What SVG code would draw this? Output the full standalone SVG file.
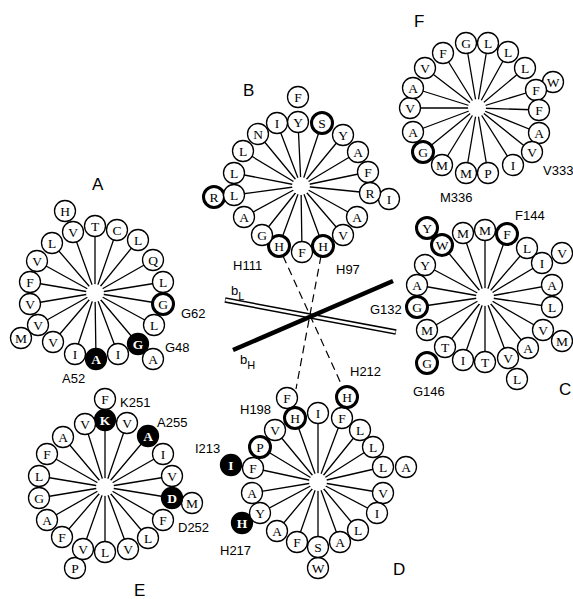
<svg xmlns="http://www.w3.org/2000/svg" width="573" height="599" viewBox="0 0 573 599">
<style>
.c{fill:#fff;stroke:#000;stroke-width:1.3}
.cb{fill:#fff;stroke:#000;stroke-width:3}
.ck{fill:#000;stroke:#000;stroke-width:1.3}
.t{font-family:"Liberation Serif",serif;font-size:13.5px;text-anchor:middle;fill:#000}
.tw{font-family:"Liberation Serif",serif;font-size:13.5px;text-anchor:middle;fill:#fff;font-weight:bold}
.l{font-family:"Liberation Sans",Arial,sans-serif;font-size:13px;fill:#000}
.w{font-family:"Liberation Sans",Arial,sans-serif;font-size:17px;fill:#000}
.sp{stroke:#000;stroke-width:1.3;fill:none}
.hub{fill:#fff;stroke:none}
</style>
<rect width="573" height="599" fill="#fff"/>
<g id="connectors">
<line x1="283" y1="256" x2="343" y2="388" stroke="#000" stroke-width="1.2" stroke-dasharray="8,5"/>
<line x1="321" y1="256" x2="296" y2="389" stroke="#000" stroke-width="1.2" stroke-dasharray="8,5"/>
<line x1="225" y1="300" x2="396" y2="332" stroke="#000" stroke-width="5.5"/>
<line x1="225.5" y1="300.1" x2="395.5" y2="331.9" stroke="#fff" stroke-width="2.5"/>
<line x1="233" y1="350" x2="393" y2="281" stroke="#000" stroke-width="4.5"/>
</g>
<g id="axis-labels">
<text class="l" x="231" y="295">b<tspan font-size="11" dy="5">L</tspan></text>
<text class="l" x="240" y="364">b<tspan font-size="11" dy="5">H</tspan></text>
</g>
<g id="wheelA">
<path class="sp" d="M95 293L73 232M95 293L95 226M95 293L117 230M95 293L138 240M95 293L153 260M95 293L163 282M95 293L163 304M95 293L154 325M95 293L138 344M95 293L118 354M95 293L96 359M95 293L75 354M95 293L53 342M95 293L38 325M95 293L30 304M95 293L30 282M95 293L37 261M95 293L52 243"/>
<circle class="hub" cx="95" cy="293" r="9"/>
<g id="A-H"><circle class="c" cx="65" cy="211" r="10.5"/><text class="t" x="65" y="215.5">H</text></g>
<g id="A-V1"><circle class="c" cx="73" cy="232" r="10.5"/><text class="t" x="73" y="236.5">V</text></g>
<g id="A-T"><circle class="c" cx="95" cy="226" r="10.5"/><text class="t" x="95" y="230.5">T</text></g>
<g id="A-C"><circle class="c" cx="117" cy="230" r="10.5"/><text class="t" x="117" y="234.5">C</text></g>
<g id="A-L1"><circle class="c" cx="138" cy="240" r="10.5"/><text class="t" x="138" y="244.5">L</text></g>
<g id="A-Q"><circle class="c" cx="153" cy="260" r="10.5"/><text class="t" x="153" y="264.5">Q</text></g>
<g id="A-L2"><circle class="c" cx="163" cy="282" r="10.5"/><text class="t" x="163" y="286.5">L</text></g>
<g id="A-G62"><circle class="cb" cx="163" cy="304" r="10.5"/><text class="t" x="163" y="308.5">G</text></g>
<g id="A-L3"><circle class="c" cx="154" cy="325" r="10.5"/><text class="t" x="154" y="329.5">L</text></g>
<g id="A-G48"><circle class="ck" cx="138" cy="344" r="10.5"/><text class="tw" x="138" y="348.5">G</text></g>
<g id="A-A1"><circle class="c" cx="153" cy="359" r="10.5"/><text class="t" x="153" y="363.5">A</text></g>
<g id="A-I1"><circle class="c" cx="118" cy="354" r="10.5"/><text class="t" x="118" y="358.5">I</text></g>
<g id="A-A52"><circle class="ck" cx="96" cy="359" r="10.5"/><text class="tw" x="96" y="363.5">A</text></g>
<g id="A-I2"><circle class="c" cx="75" cy="354" r="10.5"/><text class="t" x="75" y="358.5">I</text></g>
<g id="A-V2"><circle class="c" cx="53" cy="342" r="10.5"/><text class="t" x="53" y="346.5">V</text></g>
<g id="A-M"><circle class="c" cx="21" cy="338" r="10.5"/><text class="t" x="21" y="342.5">M</text></g>
<g id="A-V3"><circle class="c" cx="38" cy="325" r="10.5"/><text class="t" x="38" y="329.5">V</text></g>
<g id="A-V4"><circle class="c" cx="30" cy="304" r="10.5"/><text class="t" x="30" y="308.5">V</text></g>
<g id="A-F"><circle class="c" cx="30" cy="282" r="10.5"/><text class="t" x="30" y="286.5">F</text></g>
<g id="A-V5"><circle class="c" cx="37" cy="261" r="10.5"/><text class="t" x="37" y="265.5">V</text></g>
<g id="A-L4"><circle class="c" cx="52" cy="243" r="10.5"/><text class="t" x="52" y="247.5">L</text></g>
<text class="w" x="92" y="190">A</text>
<text class="l" x="181" y="318">G62</text>
<text class="l" x="165" y="352">G48</text>
<text class="l" x="62" y="383">A52</text>
</g>
<g id="wheelB">
<path class="sp" d="M301 186L298 122M301 186L322 123M301 186L343 135M301 186L358 152M301 186L368 172M301 186L370 193M301 186L357 217M301 186L343 235M301 186L323 246M301 186L302 252M301 186L279 246M301 186L262 235M301 186L244 217M301 186L234 195M301 186L234 173M301 186L243 151M301 186L258 134M301 186L277 123"/>
<circle class="hub" cx="301" cy="186" r="9"/>
<g id="B-F1"><circle class="c" cx="298" cy="97" r="10.5"/><text class="t" x="298" y="101.5">F</text></g>
<g id="B-Y1"><circle class="c" cx="298" cy="122" r="10.5"/><text class="t" x="298" y="126.5">Y</text></g>
<g id="B-S"><circle class="cb" cx="322" cy="123" r="10.5"/><text class="t" x="322" y="127.5">S</text></g>
<g id="B-Y2"><circle class="c" cx="343" cy="135" r="10.5"/><text class="t" x="343" y="139.5">Y</text></g>
<g id="B-A1"><circle class="c" cx="358" cy="152" r="10.5"/><text class="t" x="358" y="156.5">A</text></g>
<g id="B-F2"><circle class="c" cx="368" cy="172" r="10.5"/><text class="t" x="368" y="176.5">F</text></g>
<g id="B-I2"><circle class="c" cx="389" cy="199" r="10.5"/><text class="t" x="389" y="203.5">I</text></g>
<g id="B-R1"><circle class="c" cx="370" cy="193" r="10.5"/><text class="t" x="370" y="197.5">R</text></g>
<g id="B-A2"><circle class="c" cx="357" cy="217" r="10.5"/><text class="t" x="357" y="221.5">A</text></g>
<g id="B-V"><circle class="c" cx="343" cy="235" r="10.5"/><text class="t" x="343" y="239.5">V</text></g>
<g id="B-H97"><circle class="cb" cx="323" cy="246" r="10.5"/><text class="t" x="323" y="250.5">H</text></g>
<g id="B-F3"><circle class="c" cx="302" cy="252" r="10.5"/><text class="t" x="302" y="256.5">F</text></g>
<g id="B-H111"><circle class="cb" cx="279" cy="246" r="10.5"/><text class="t" x="279" y="250.5">H</text></g>
<g id="B-G"><circle class="c" cx="262" cy="235" r="10.5"/><text class="t" x="262" y="239.5">G</text></g>
<g id="B-A3"><circle class="c" cx="244" cy="217" r="10.5"/><text class="t" x="244" y="221.5">A</text></g>
<g id="B-R2"><circle class="cb" cx="214" cy="197" r="10.5"/><text class="t" x="214" y="201.5">R</text></g>
<g id="B-L1"><circle class="c" cx="234" cy="195" r="10.5"/><text class="t" x="234" y="199.5">L</text></g>
<g id="B-L2"><circle class="c" cx="234" cy="173" r="10.5"/><text class="t" x="234" y="177.5">L</text></g>
<g id="B-L3"><circle class="c" cx="243" cy="151" r="10.5"/><text class="t" x="243" y="155.5">L</text></g>
<g id="B-N"><circle class="c" cx="258" cy="134" r="10.5"/><text class="t" x="258" y="138.5">N</text></g>
<g id="B-I1"><circle class="c" cx="277" cy="123" r="10.5"/><text class="t" x="277" y="127.5">I</text></g>
<text class="w" x="243" y="96">B</text>
<text class="l" x="233" y="270">H111</text>
<text class="l" x="336" y="274">H97</text>
</g>
<g id="wheelF">
<path class="sp" d="M477 108L466 43M477 108L488 43M477 108L508 52M477 108L525 68M477 108L536 90M477 108L539 110M477 108L539 133M477 108L532 152M477 108L513 165M477 108L488 173M477 108L466 173M477 108L442 165M477 108L423 152M477 108L413 132M477 108L410 108M477 108L413 88M477 108L425 68M477 108L443 53"/>
<circle class="hub" cx="477" cy="108" r="9"/>
<g id="F-G1"><circle class="c" cx="466" cy="43" r="10.5"/><text class="t" x="466" y="47.5">G</text></g>
<g id="F-L1"><circle class="c" cx="488" cy="43" r="10.5"/><text class="t" x="488" y="47.5">L</text></g>
<g id="F-L2"><circle class="c" cx="508" cy="52" r="10.5"/><text class="t" x="508" y="56.5">L</text></g>
<g id="F-L3"><circle class="c" cx="525" cy="68" r="10.5"/><text class="t" x="525" y="72.5">L</text></g>
<g id="F-W"><circle class="c" cx="553" cy="82" r="10.5"/><text class="t" x="553" y="86.5">W</text></g>
<g id="F-F1"><circle class="c" cx="536" cy="90" r="10.5"/><text class="t" x="536" y="94.5">F</text></g>
<g id="F-F2"><circle class="c" cx="539" cy="110" r="10.5"/><text class="t" x="539" y="114.5">F</text></g>
<g id="F-A1"><circle class="c" cx="539" cy="133" r="10.5"/><text class="t" x="539" y="137.5">A</text></g>
<g id="F-V333"><circle class="c" cx="532" cy="152" r="10.5"/><text class="t" x="532" y="156.5">V</text></g>
<g id="F-I"><circle class="c" cx="513" cy="165" r="10.5"/><text class="t" x="513" y="169.5">I</text></g>
<g id="F-P"><circle class="c" cx="488" cy="173" r="10.5"/><text class="t" x="488" y="177.5">P</text></g>
<g id="F-M336"><circle class="c" cx="466" cy="173" r="10.5"/><text class="t" x="466" y="177.5">M</text></g>
<g id="F-M2"><circle class="c" cx="442" cy="165" r="10.5"/><text class="t" x="442" y="169.5">M</text></g>
<g id="F-G2"><circle class="cb" cx="423" cy="152" r="10.5"/><text class="t" x="423" y="156.5">G</text></g>
<g id="F-A2"><circle class="c" cx="413" cy="132" r="10.5"/><text class="t" x="413" y="136.5">A</text></g>
<g id="F-V1"><circle class="c" cx="410" cy="108" r="10.5"/><text class="t" x="410" y="112.5">V</text></g>
<g id="F-A3"><circle class="c" cx="413" cy="88" r="10.5"/><text class="t" x="413" y="92.5">A</text></g>
<g id="F-V2"><circle class="c" cx="425" cy="68" r="10.5"/><text class="t" x="425" y="72.5">V</text></g>
<g id="F-F3"><circle class="c" cx="443" cy="53" r="10.5"/><text class="t" x="443" y="57.5">F</text></g>
<text class="w" x="414" y="27">F</text>
<text class="l" x="543" y="175">V333</text>
<text class="l" x="440" y="202">M336</text>
</g>
<g id="wheelC">
<path class="sp" d="M485 297L442 245M485 297L463 233M485 297L485 230M485 297L507 234M485 297L527 248M485 297L542 263M485 297L552 285M485 297L552 307M485 297L543 330M485 297L528 348M485 297L508 358M485 297L485 362M485 297L463 360M485 297L445 347M485 297L427 330M485 297L417 307M485 297L417 285M485 297L425 265"/>
<circle class="hub" cx="485" cy="297" r="9"/>
<g id="C-Y1"><circle class="cb" cx="427" cy="228" r="10.5"/><text class="t" x="427" y="232.5">Y</text></g>
<g id="C-W"><circle class="cb" cx="442" cy="245" r="10.5"/><text class="t" x="442" y="249.5">W</text></g>
<g id="C-M1"><circle class="c" cx="463" cy="233" r="10.5"/><text class="t" x="463" y="237.5">M</text></g>
<g id="C-M2"><circle class="c" cx="485" cy="230" r="10.5"/><text class="t" x="485" y="234.5">M</text></g>
<g id="C-F144"><circle class="cb" cx="507" cy="234" r="10.5"/><text class="t" x="507" y="238.5">F</text></g>
<g id="C-L1"><circle class="c" cx="527" cy="248" r="10.5"/><text class="t" x="527" y="252.5">L</text></g>
<g id="C-V1"><circle class="c" cx="562" cy="253" r="10.5"/><text class="t" x="562" y="257.5">V</text></g>
<g id="C-I1"><circle class="c" cx="542" cy="263" r="10.5"/><text class="t" x="542" y="267.5">I</text></g>
<g id="C-A1"><circle class="c" cx="552" cy="285" r="10.5"/><text class="t" x="552" y="289.5">A</text></g>
<g id="C-L2"><circle class="c" cx="552" cy="307" r="10.5"/><text class="t" x="552" y="311.5">L</text></g>
<g id="C-V2"><circle class="c" cx="543" cy="330" r="10.5"/><text class="t" x="543" y="334.5">V</text></g>
<g id="C-M3"><circle class="c" cx="562" cy="341" r="10.5"/><text class="t" x="562" y="345.5">M</text></g>
<g id="C-A2"><circle class="c" cx="528" cy="348" r="10.5"/><text class="t" x="528" y="352.5">A</text></g>
<g id="C-V3"><circle class="c" cx="508" cy="358" r="10.5"/><text class="t" x="508" y="362.5">V</text></g>
<g id="C-L3"><circle class="c" cx="517" cy="379" r="10.5"/><text class="t" x="517" y="383.5">L</text></g>
<g id="C-T1"><circle class="c" cx="485" cy="362" r="10.5"/><text class="t" x="485" y="366.5">T</text></g>
<g id="C-I2"><circle class="c" cx="463" cy="360" r="10.5"/><text class="t" x="463" y="364.5">I</text></g>
<g id="C-T2"><circle class="c" cx="445" cy="347" r="10.5"/><text class="t" x="445" y="351.5">T</text></g>
<g id="C-G146"><circle class="cb" cx="427" cy="363" r="10.5"/><text class="t" x="427" y="367.5">G</text></g>
<g id="C-M4"><circle class="c" cx="427" cy="330" r="10.5"/><text class="t" x="427" y="334.5">M</text></g>
<g id="C-G132"><circle class="cb" cx="417" cy="307" r="10.5"/><text class="t" x="417" y="311.5">G</text></g>
<g id="C-A3"><circle class="c" cx="417" cy="285" r="10.5"/><text class="t" x="417" y="289.5">A</text></g>
<g id="C-Y2"><circle class="c" cx="425" cy="265" r="10.5"/><text class="t" x="425" y="269.5">Y</text></g>
<text class="l" x="515" y="220">F144</text>
<text class="l" x="370" y="314">G132</text>
<text class="l" x="413" y="396">G146</text>
<text class="w" x="559" y="395">C</text>
</g>
<g id="wheelD">
<path class="sp" d="M318 482L295 418M318 482L318 413M318 482L342 418M318 482L360 430M318 482L373 447M318 482L383 467M318 482L383 493M318 482L377 513M318 482L358 530M318 482L340 542M318 482L318 547M318 482L297 542M318 482L277 531M318 482L260 513M318 482L252 493M318 482L253 468M318 482L260 447M318 482L275 430"/>
<circle class="hub" cx="318" cy="482" r="9"/>
<g id="D-F1"><circle class="c" cx="287" cy="398" r="10.5"/><text class="t" x="287" y="402.5">F</text></g>
<g id="D-H198"><circle class="cb" cx="295" cy="418" r="10.5"/><text class="t" x="295" y="422.5">H</text></g>
<g id="D-I1"><circle class="c" cx="318" cy="413" r="10.5"/><text class="t" x="318" y="417.5">I</text></g>
<g id="D-F2"><circle class="c" cx="342" cy="418" r="10.5"/><text class="t" x="342" y="422.5">F</text></g>
<g id="D-H212"><circle class="cb" cx="347" cy="397" r="10.5"/><text class="t" x="347" y="401.5">H</text></g>
<g id="D-L1"><circle class="c" cx="360" cy="430" r="10.5"/><text class="t" x="360" y="434.5">L</text></g>
<g id="D-L2"><circle class="c" cx="373" cy="447" r="10.5"/><text class="t" x="373" y="451.5">L</text></g>
<g id="D-L3"><circle class="c" cx="383" cy="467" r="10.5"/><text class="t" x="383" y="471.5">L</text></g>
<g id="D-A1"><circle class="c" cx="406" cy="467" r="10.5"/><text class="t" x="406" y="471.5">A</text></g>
<g id="D-V1"><circle class="c" cx="383" cy="493" r="10.5"/><text class="t" x="383" y="497.5">V</text></g>
<g id="D-I2"><circle class="c" cx="377" cy="513" r="10.5"/><text class="t" x="377" y="517.5">I</text></g>
<g id="D-L4"><circle class="c" cx="358" cy="530" r="10.5"/><text class="t" x="358" y="534.5">L</text></g>
<g id="D-A2"><circle class="c" cx="340" cy="542" r="10.5"/><text class="t" x="340" y="546.5">A</text></g>
<g id="D-W"><circle class="c" cx="318" cy="568" r="10.5"/><text class="t" x="318" y="572.5">W</text></g>
<g id="D-S"><circle class="c" cx="318" cy="547" r="10.5"/><text class="t" x="318" y="551.5">S</text></g>
<g id="D-F3"><circle class="c" cx="297" cy="542" r="10.5"/><text class="t" x="297" y="546.5">F</text></g>
<g id="D-A3"><circle class="c" cx="277" cy="531" r="10.5"/><text class="t" x="277" y="535.5">A</text></g>
<g id="D-H217"><circle class="ck" cx="242" cy="523" r="10.5"/><text class="tw" x="242" y="527.5">H</text></g>
<g id="D-Y"><circle class="c" cx="260" cy="513" r="10.5"/><text class="t" x="260" y="517.5">Y</text></g>
<g id="D-A4"><circle class="c" cx="252" cy="493" r="10.5"/><text class="t" x="252" y="497.5">A</text></g>
<g id="D-I213"><circle class="ck" cx="231" cy="465" r="10.5"/><text class="tw" x="231" y="469.5">I</text></g>
<g id="D-F4"><circle class="c" cx="253" cy="468" r="10.5"/><text class="t" x="253" y="472.5">F</text></g>
<g id="D-P"><circle class="cb" cx="260" cy="447" r="10.5"/><text class="t" x="260" y="451.5">P</text></g>
<g id="D-V2"><circle class="c" cx="275" cy="430" r="10.5"/><text class="t" x="275" y="434.5">V</text></g>
<text class="l" x="350" y="376">H212</text>
<text class="l" x="240" y="414">H198</text>
<text class="l" x="195" y="453">I213</text>
<text class="l" x="220" y="555">H217</text>
<text class="w" x="393" y="575">D</text>
</g>
<g id="wheelE">
<path class="sp" d="M105 487L105 420M105 487L127 423M105 487L148 436M105 487L163 454M105 487L172 476M105 487L172 498M105 487L163 520M105 487L148 538M105 487L128 549M105 487L105 552M105 487L83 549M105 487L62 537M105 487L47 520M105 487L39 498M105 487L39 476M105 487L47 454M105 487L63 437M105 487L85 424"/>
<circle class="hub" cx="105" cy="487" r="9"/>
<g id="E-F1"><circle class="c" cx="105" cy="399" r="10.5"/><text class="t" x="105" y="403.5">F</text></g>
<g id="E-K251"><circle class="ck" cx="105" cy="420" r="10.5"/><text class="tw" x="105" y="424.5">K</text></g>
<g id="E-V1"><circle class="c" cx="127" cy="423" r="10.5"/><text class="t" x="127" y="427.5">V</text></g>
<g id="E-A255"><circle class="ck" cx="148" cy="436" r="10.5"/><text class="tw" x="148" y="440.5">A</text></g>
<g id="E-I"><circle class="c" cx="163" cy="454" r="10.5"/><text class="t" x="163" y="458.5">I</text></g>
<g id="E-V2"><circle class="c" cx="172" cy="476" r="10.5"/><text class="t" x="172" y="480.5">V</text></g>
<g id="E-M"><circle class="c" cx="192" cy="503" r="10.5"/><text class="t" x="192" y="507.5">M</text></g>
<g id="E-D252"><circle class="ck" cx="172" cy="498" r="10.5"/><text class="tw" x="172" y="502.5">D</text></g>
<g id="E-F2"><circle class="c" cx="163" cy="520" r="10.5"/><text class="t" x="163" y="524.5">F</text></g>
<g id="E-L1"><circle class="c" cx="148" cy="538" r="10.5"/><text class="t" x="148" y="542.5">L</text></g>
<g id="E-V3"><circle class="c" cx="128" cy="549" r="10.5"/><text class="t" x="128" y="553.5">V</text></g>
<g id="E-L2"><circle class="c" cx="105" cy="552" r="10.5"/><text class="t" x="105" y="556.5">L</text></g>
<g id="E-P"><circle class="c" cx="75" cy="568" r="10.5"/><text class="t" x="75" y="572.5">P</text></g>
<g id="E-V4"><circle class="c" cx="83" cy="549" r="10.5"/><text class="t" x="83" y="553.5">V</text></g>
<g id="E-F3"><circle class="c" cx="62" cy="537" r="10.5"/><text class="t" x="62" y="541.5">F</text></g>
<g id="E-A1"><circle class="c" cx="47" cy="520" r="10.5"/><text class="t" x="47" y="524.5">A</text></g>
<g id="E-G"><circle class="c" cx="39" cy="498" r="10.5"/><text class="t" x="39" y="502.5">G</text></g>
<g id="E-L3"><circle class="c" cx="39" cy="476" r="10.5"/><text class="t" x="39" y="480.5">L</text></g>
<g id="E-F4"><circle class="c" cx="47" cy="454" r="10.5"/><text class="t" x="47" y="458.5">F</text></g>
<g id="E-A2"><circle class="c" cx="63" cy="437" r="10.5"/><text class="t" x="63" y="441.5">A</text></g>
<g id="E-V5"><circle class="c" cx="85" cy="424" r="10.5"/><text class="t" x="85" y="428.5">V</text></g>
<text class="l" x="120" y="407">K251</text>
<text class="l" x="157" y="427">A255</text>
<text class="l" x="178" y="532">D252</text>
<text class="w" x="134" y="596">E</text>
</g>
</svg>
